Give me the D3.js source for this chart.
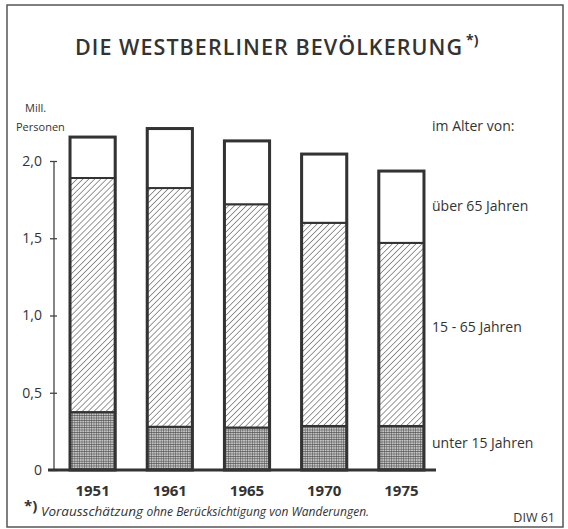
<!DOCTYPE html>
<html>
<head>
<meta charset="utf-8">
<script src="https://cdn.jsdelivr.net/npm/d3@7"></script>
<style>
  body { margin: 0; background: #fff; }
  text { font-family: "Open Sans", "DejaVu Sans", sans-serif; fill: #333; }
</style>
</head>
<body>
<div id="chart"></div>
<script>
// Westberliner Bevölkerung, Mill. Personen
var years = ["1951", "1961", "1965", "1970", "1975"];
var unter15 = [0.375, 0.28, 0.275, 0.285, 0.285];
var mitte = [1.515, 1.545, 1.445, 1.315, 1.185];
var ueber65 = [0.265, 0.385, 0.41, 0.445, 0.465];
var groupKeys = ["unter15", "mitte", "ueber65"];
var tickValues = [0, 0.5, 1.0, 1.5, 2.0];
var tickLabels = ["0", "0,5", "1,0", "1,5", "2,0"];
var legendLabels = ["unter 15 Jahren", "15 - 65 Jahren", "über 65 Jahren"];

const width = 568, height = 529;

var rows = years.map(function (y, i) {
    return { year: y, unter15: unter15[i], mitte: mitte[i], ueber65: ueber65[i] };
});
var series = d3.stack().keys(groupKeys)(rows);

var x = d3.scaleBand()
    .domain(years)
    .range([54, 440])
    .paddingInner(0.415)
    .paddingOuter(0.2075);

var y = d3.scaleLinear()
    .domain([0, 2])
    .range([470, 161]);

var svg = d3.select("#chart")
    .append("svg")
    .attr("width", width)
    .attr("height", height);

var defs = svg.append("defs");

// diagonal hatching for 15-65
var hatch = defs.append("pattern")
    .attr("id", "hatch")
    .attr("patternUnits", "userSpaceOnUse")
    .attr("width", 4.2)
    .attr("height", 4.2)
    .attr("patternTransform", "rotate(45)");
hatch.append("rect").attr("width", 4.2).attr("height", 4.2).attr("fill", "#fff");
hatch.append("line")
    .attr("x1", 0).attr("y1", 0).attr("x2", 0).attr("y2", 4.2)
    .attr("stroke", "#444").attr("stroke-width", 1.1);

// fine grid for unter 15
var grid = defs.append("pattern")
    .attr("id", "grid")
    .attr("patternUnits", "userSpaceOnUse")
    .attr("width", 2.4)
    .attr("height", 2.4);
grid.append("rect").attr("width", 2.4).attr("height", 2.4).attr("fill", "#c8c8c8");
grid.append("path")
    .attr("d", "M0,0H2.4M0,0V2.4")
    .attr("stroke", "#4a4a4a").attr("stroke-width", 1);

var fills = { unter15: "url(#grid)", mitte: "url(#hatch)", ueber65: "#fff" };

// frame
svg.append("rect")
    .attr("x", 7).attr("y", 5)
    .attr("width", 556).attr("height", 522)
    .attr("fill", "none")
    .attr("stroke", "#555")
    .attr("stroke-width", 1.5);

// title
svg.append("text")
    .attr("x", 75).attr("y", 55)
    .attr("font-size", 21.5)
    .attr("font-weight", 600)
    .attr("letter-spacing", 1)
    .attr("textLength", 388)
    .text("DIE WESTBERLINER BEVÖLKERUNG");
svg.append("text")
    .attr("x", 466).attr("y", 45)
    .attr("font-size", 14)
    .attr("font-weight", 700)
    .text("*)");

// y axis
var yAxis = d3.axisLeft(y)
    .tickValues(tickValues)
    .tickFormat(function (d, i) { return tickLabels[i]; })
    .tickSize(6)
    .tickPadding(6);

var ag = svg.append("g")
    .attr("transform", "translate(54,0)")
    .call(yAxis);
ag.select(".domain").remove();
ag.selectAll(".tick line")
    .attr("x2", 3).attr("x1", -4)
    .attr("stroke", "#444").attr("stroke-width", 1.3);
ag.selectAll(".tick text")
    .attr("font-size", 14)
    .attr("font-family", "Open Sans, sans-serif")
    .attr("fill", "#444");

svg.append("line")
    .attr("x1", 54).attr("x2", 54)
    .attr("y1", y(2)).attr("y2", y(0))
    .attr("stroke", "#444").attr("stroke-width", 1.3);

svg.append("text").attr("x", 25).attr("y", 112).attr("font-size", 11).text("Mill.");
svg.append("text").attr("x", 16).attr("y", 131).attr("font-size", 11).text("Personen");

// bars
svg.append("g")
    .selectAll("g")
    .data(series)
    .enter().append("g")
    .attr("fill", function (d) { return fills[d.key]; })
    .selectAll("rect")
    .data(function (d) { return d; })
    .enter().append("rect")
    .attr("x", function (d) { return x(d.data.year); })
    .attr("y", function (d) { return y(d[1]); })
    .attr("width", x.bandwidth())
    .attr("height", function (d) { return y(d[0]) - y(d[1]); })
    .attr("stroke", "#333")
    .attr("stroke-width", 2);

// thick outline per bar
svg.append("g")
    .selectAll("rect")
    .data(rows)
    .enter().append("rect")
    .attr("x", function (d) { return x(d.year); })
    .attr("y", function (d) { return y(d.unter15 + d.mitte + d.ueber65); })
    .attr("width", x.bandwidth())
    .attr("height", function (d) { return y(0) - y(d.unter15 + d.mitte + d.ueber65); })
    .attr("fill", "none")
    .attr("stroke", "#333")
    .attr("stroke-width", 3);

// baseline
svg.append("line")
    .attr("x1", 48).attr("x2", 436)
    .attr("y1", y(0)).attr("y2", y(0))
    .attr("stroke", "#333").attr("stroke-width", 3);

// x labels
var xAxis = d3.axisBottom(x).tickSize(0).tickPadding(15);
var xg = svg.append("g")
    .attr("transform", "translate(0," + y(0) + ")")
    .call(xAxis);
xg.select(".domain").remove();
xg.selectAll(".tick text")
    .attr("font-size", 15)
    .attr("font-weight", 700)
    .attr("font-family", "Open Sans, sans-serif")
    .attr("fill", "#333");

// legend labels
svg.append("text").attr("x", 432).attr("y", 131).attr("font-size", 14).text("im Alter von:");
var legendY = [448, 332, 211];
svg.append("g")
    .selectAll("text")
    .data(legendLabels)
    .enter().append("text")
    .attr("x", 432)
    .attr("y", function (d, i) { return legendY[i]; })
    .attr("font-size", 14)
    .text(function (d) { return d; });

// footnote
svg.append("text").attr("x", 24).attr("y", 511).attr("font-size", 15).attr("font-weight", 700).text("*)");
var fn = svg.append("text").attr("x", 41).attr("y", 516).attr("font-style", "italic");
fn.append("tspan").attr("font-size", 13.5).text("Vorausschätzung ");
fn.append("tspan").attr("font-size", 12).text("ohne Berücksichtigung von Wanderungen.");

svg.append("text")
    .attr("x", 555).attr("y", 522)
    .attr("text-anchor", "end")
    .attr("font-size", 12.5)
    .text("DIW 61");
</script>
</body>
</html>
